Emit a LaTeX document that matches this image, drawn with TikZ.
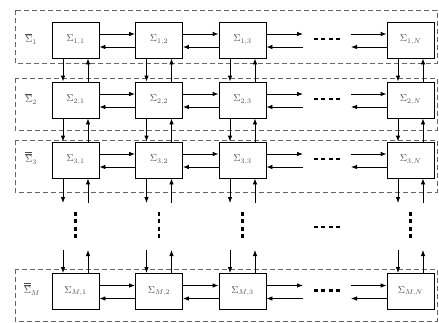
\documentclass[tikz,border=0pt]{standalone}
\usetikzlibrary{arrows.meta}
\begin{document}
\begin{tikzpicture}[x=1pt,y=-1pt,
  blk/.style={draw=black,line width=0.8pt,minimum width=47pt,minimum height=36pt,inner sep=0pt,text=black!70,font=\normalsize},
  grp/.style={draw=black!60,line width=0.6pt,dash pattern=on 5pt off 3pt},
  arr/.style={line width=0.8pt,-{Latex[length=6pt,width=4.5pt]}},
  rowlab/.style={text=black!70,inner sep=0pt},
  dotsty/.style={line width=2.6pt,dash pattern=on 4pt off 3.3pt}]
\useasboundingbox (0,0) rectangle (439,322);
% group frames
\draw[grp] (15,10) rectangle (437,63);
\draw[grp] (15,78) rectangle (437,130);
\draw[grp] (15,140) rectangle (437,192);
\draw[grp] (15,269) rectangle (437,321);
% row labels
\node[rowlab] (l1) at (31,39) {$\overline{\Sigma}_1$};
\node[rowlab] (l2) at (31,99) {$\overline{\Sigma}_2$};
\node[rowlab] (l3) at (31,158) {$\overline{\overline{\Sigma}}_3$};
\node[rowlab] (l4) at (32,289) {$\overline{\overline{\Sigma}}_M$};
% blocks
\foreach \i/\y/\ri in {1/40/1,2/100/2,3/160/3,4/291.5/M}{
  \foreach \j/\x/\cj in {1/75.5/1,2/159/2,3/242.5/3,4/410.5/N}{
    \node[blk] (b\i\j) at (\x,\y) {$\Sigma_{\ri,\cj}$};
  }
  % horizontal arrows
  \foreach \j [evaluate=\j as \k using int(\j+1)] in {1,2}{
    \draw[arr] ([yshift=6pt]b\i\j.east) -- ([yshift=6pt]b\i\k.west);
    \draw[arr] ([yshift=-7pt]b\i\k.west) -- ([yshift=-7pt]b\i\j.east);
  }
  \coordinate (ra\i) at (303,\y-6);
  \coordinate (la\i) at (303,\y+7);
  \coordinate (rb\i) at (351,\y-6);
  \coordinate (lb\i) at (351,\y+7);
  \draw[arr] ([yshift=6pt]b\i3.east) -- (ra\i);
  \draw[arr] (la\i) -- ([yshift=-7pt]b\i3.east);
  \draw[arr] (rb\i) -- ([yshift=6pt]b\i4.west);
  \draw[arr] ([yshift=-7pt]b\i4.west) -- (lb\i);
  \coordinate (hd\i a) at (314,\y-1);
  \coordinate (hd\i b) at (340,\y-1);
  \draw[dotsty] (hd\i a) -- (hd\i b);
}
% vertical arrows
\foreach \j/\x in {1/75.5,2/159,3/242.5,4/410.5}{
  \foreach \i [evaluate=\i as \k using int(\i+1)] in {1,2}{
    \draw[arr] ([xshift=-12.5pt]b\i\j.south) -- ([xshift=-12.5pt]b\k\j.north);
    \draw[arr] ([xshift=12.5pt]b\k\j.north) -- ([xshift=12.5pt]b\i\j.south);
  }
  \coordinate (dn\j) at (\x-12.5,203);
  \coordinate (up\j) at (\x+12.5,203);
  \draw[arr] ([xshift=-12.5pt]b3\j.south) -- (dn\j);
  \draw[arr] (up\j) -- ([xshift=12.5pt]b3\j.south);
  \coordinate (tn\j) at (\x-12.5,250);
  \coordinate (tu\j) at (\x+12.5,250);
  \draw[arr] (tn\j) -- ([xshift=-12.5pt]b4\j.north);
  \draw[arr] ([xshift=12.5pt]b4\j.north) -- (tu\j);
  \coordinate (vd\j a) at (\x,212);
  \coordinate (vd\j b) at (\x,240);
  \draw[dotsty] (vd\j a) -- (vd\j b);
}
\coordinate (mda) at (314,227);
\coordinate (mdb) at (340,227);
\draw[dotsty] (mda) -- (mdb);
\end{tikzpicture}
\end{document}
